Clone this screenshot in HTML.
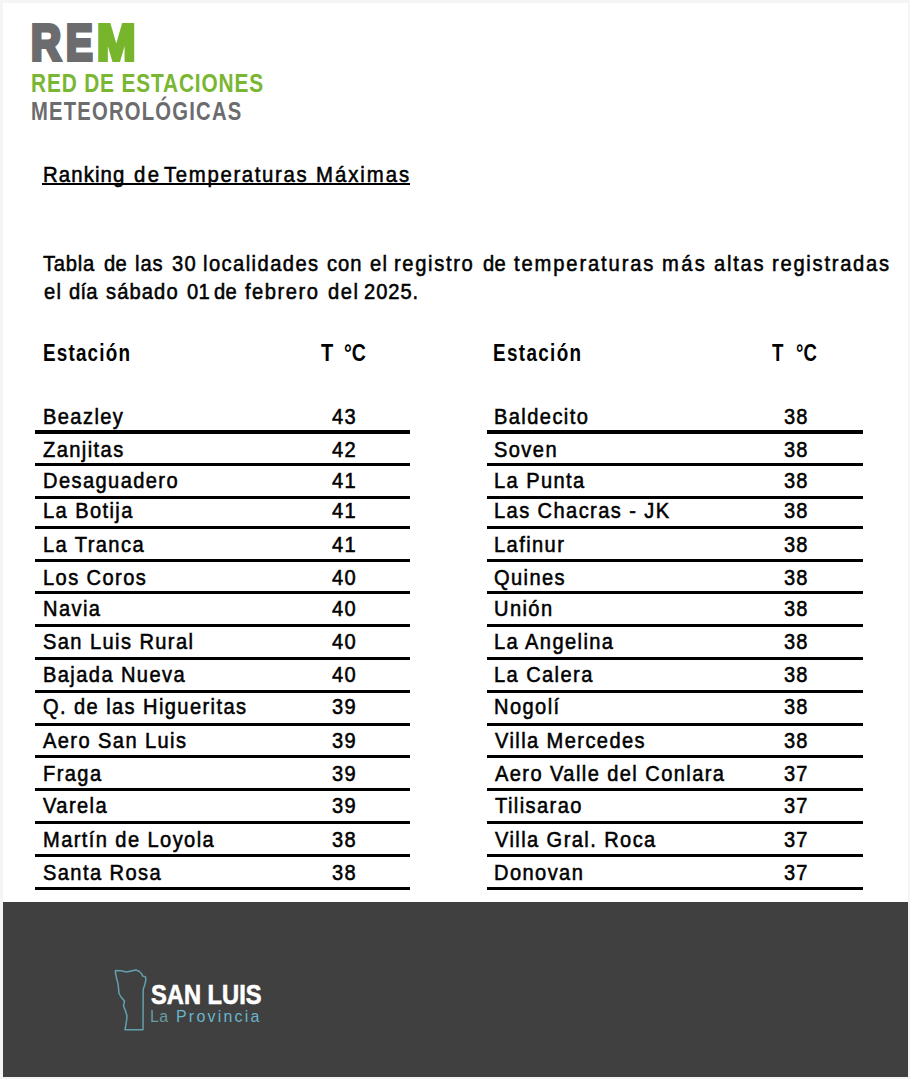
<!DOCTYPE html>
<html><head><meta charset="utf-8"><title>REM - Ranking de Temperaturas Máximas</title><style>
html,body{margin:0;padding:0;}
body{width:910px;height:1079px;position:relative;overflow:hidden;background:#fff;font-family:"Liberation Sans",sans-serif;}
.t{position:absolute;white-space:nowrap;transform-origin:0 0;line-height:normal;}
.r{position:absolute;background:#000;}
.ul{position:absolute;background:#000;}
.foot{position:absolute;left:3px;top:902px;width:905px;height:175px;background:#404040;}
.edge{position:absolute;background:#f5f5f5;}
</style></head><body>
<div class="edge" style="left:0;top:0;width:910px;height:3px"></div>
<div class="edge" style="left:0;top:0;width:3px;height:1079px"></div>
<div class="edge" style="left:908px;top:0;width:2px;height:1079px"></div>
<div class="edge" style="left:0;top:1077px;width:910px;height:2px"></div>
<div class="foot"></div>
<div class="t" style="left:31.27px;top:14.00px;font-size:50.0px;font-weight:bold;color:#6c6c6f;transform:scaleX(0.8324);-webkit-text-stroke:4px #6c6c6f;">R</div>
<div class="t" style="left:66.00px;top:14.00px;font-size:50.0px;font-weight:bold;color:#6c6c6f;transform:scaleX(0.8000);-webkit-text-stroke:4px #6c6c6f;">E</div>
<div class="t" style="left:96.98px;top:14.00px;font-size:50.0px;font-weight:bold;color:#77b52c;transform:scaleX(0.9225);-webkit-text-stroke:4px #77b52c;">M</div>
<div class="t" style="left:31.42px;top:67.50px;font-size:26.7px;font-weight:bold;color:#79b631;transform:scaleX(0.7800);letter-spacing:1.113px;">RED DE ESTACIONES</div>
<div class="t" style="left:31.40px;top:96.50px;font-size:25.3px;font-weight:bold;color:#6c6c6f;transform:scaleX(0.8000);letter-spacing:1.509px;">METEOROLÓGICAS</div>
<div class="t" style="left:43.35px;top:161.72px;font-size:22.6px;transform:scaleX(0.9000);letter-spacing:1.242px;-webkit-text-stroke:0.55px #000;">Ranking</div>
<div class="t" style="left:133.95px;top:161.72px;font-size:22.6px;transform:scaleX(0.9000);letter-spacing:2.800px;-webkit-text-stroke:0.55px #000;">de</div>
<div class="t" style="left:164.15px;top:161.72px;font-size:22.6px;transform:scaleX(0.9000);letter-spacing:1.854px;-webkit-text-stroke:0.55px #000;">Temperaturas</div>
<div class="t" style="left:316.05px;top:161.72px;font-size:22.6px;transform:scaleX(0.9000);letter-spacing:2.171px;-webkit-text-stroke:0.55px #000;">Máximas</div>
<div class="t" style="left:42.85px;top:250.53px;font-size:22.4px;transform:scaleX(0.9000);letter-spacing:0.816px;-webkit-text-stroke:0.55px #000;">Tabla</div>
<div class="t" style="left:103.55px;top:250.53px;font-size:22.4px;transform:scaleX(0.9000);letter-spacing:0.300px;-webkit-text-stroke:0.55px #000;">de</div>
<div class="t" style="left:135.25px;top:250.53px;font-size:22.4px;transform:scaleX(0.9000);letter-spacing:1.067px;-webkit-text-stroke:0.55px #000;">las</div>
<div class="t" style="left:171.85px;top:250.53px;font-size:22.4px;transform:scaleX(0.9000);letter-spacing:1.331px;-webkit-text-stroke:0.55px #000;">30</div>
<div class="t" style="left:202.55px;top:250.53px;font-size:22.4px;transform:scaleX(0.9000);letter-spacing:1.595px;-webkit-text-stroke:0.55px #000;">localidades</div>
<div class="t" style="left:327.25px;top:250.53px;font-size:22.4px;transform:scaleX(0.9000);letter-spacing:1.123px;-webkit-text-stroke:0.55px #000;">con</div>
<div class="t" style="left:369.55px;top:250.53px;font-size:22.4px;transform:scaleX(0.9000);letter-spacing:1.331px;-webkit-text-stroke:0.55px #000;">el</div>
<div class="t" style="left:394.35px;top:250.53px;font-size:22.4px;transform:scaleX(0.9000);letter-spacing:1.844px;-webkit-text-stroke:0.55px #000;">registro</div>
<div class="t" style="left:483.15px;top:250.53px;font-size:22.4px;transform:scaleX(0.9000);letter-spacing:0.300px;-webkit-text-stroke:0.55px #000;">de</div>
<div class="t" style="left:514.15px;top:250.53px;font-size:22.4px;transform:scaleX(0.9000);letter-spacing:2.086px;-webkit-text-stroke:0.55px #000;">temperaturas</div>
<div class="t" style="left:661.55px;top:250.53px;font-size:22.4px;transform:scaleX(0.9000);letter-spacing:2.617px;-webkit-text-stroke:0.55px #000;">más</div>
<div class="t" style="left:714.15px;top:250.53px;font-size:22.4px;transform:scaleX(0.9000);letter-spacing:1.921px;-webkit-text-stroke:0.55px #000;">altas</div>
<div class="t" style="left:771.85px;top:250.53px;font-size:22.4px;transform:scaleX(0.9000);letter-spacing:1.933px;-webkit-text-stroke:0.55px #000;">registradas</div>
<div class="t" style="left:43.55px;top:279.12px;font-size:22.4px;transform:scaleX(0.9000);letter-spacing:1.331px;-webkit-text-stroke:0.55px #000;">el</div>
<div class="t" style="left:68.65px;top:279.12px;font-size:22.4px;transform:scaleX(0.9000);letter-spacing:0.300px;-webkit-text-stroke:0.55px #000;">día</div>
<div class="t" style="left:105.55px;top:279.12px;font-size:22.4px;transform:scaleX(0.9000);letter-spacing:1.222px;-webkit-text-stroke:0.55px #000;">sábado</div>
<div class="t" style="left:186.55px;top:279.12px;font-size:22.4px;transform:scaleX(0.9000);letter-spacing:0.300px;-webkit-text-stroke:0.55px #000;">01</div>
<div class="t" style="left:213.55px;top:279.12px;font-size:22.4px;transform:scaleX(0.9000);letter-spacing:0.300px;-webkit-text-stroke:0.55px #000;">de</div>
<div class="t" style="left:245.25px;top:279.12px;font-size:22.4px;transform:scaleX(0.9000);letter-spacing:1.678px;-webkit-text-stroke:0.55px #000;">febrero</div>
<div class="t" style="left:327.55px;top:279.12px;font-size:22.4px;transform:scaleX(0.9000);letter-spacing:1.772px;-webkit-text-stroke:0.55px #000;">del</div>
<div class="t" style="left:363.55px;top:279.12px;font-size:22.4px;transform:scaleX(0.9000);letter-spacing:1.021px;-webkit-text-stroke:0.55px #000;">2025.</div>
<div class="t" style="left:43.08px;top:340.00px;font-size:23.0px;font-weight:bold;transform:scaleX(0.8200);letter-spacing:1.459px;">Estación</div>
<div class="t" style="left:493.48px;top:340.00px;font-size:23.0px;font-weight:bold;transform:scaleX(0.8200);letter-spacing:1.650px;">Estación</div>
<div class="t" style="left:320.50px;top:340.00px;font-size:23.0px;font-weight:bold;transform:scaleX(0.8714);">T</div>
<div class="t" style="left:343.85px;top:340.00px;font-size:23.0px;font-weight:bold;transform:scaleX(0.8472);">°C</div>
<div class="t" style="left:772.10px;top:340.00px;font-size:23.0px;font-weight:bold;transform:scaleX(0.8143);">T</div>
<div class="t" style="left:796.19px;top:340.00px;font-size:23.0px;font-weight:bold;transform:scaleX(0.8059);">°C</div>
<div class="t" style="left:42.55px;top:403.73px;font-size:22.3px;transform:scaleX(0.9000);letter-spacing:1.571px;-webkit-text-stroke:0.55px #000;">Beazley</div>
<div class="t" style="left:331.65px;top:403.73px;font-size:22.3px;transform:scaleX(0.9000);letter-spacing:1.383px;-webkit-text-stroke:0.55px #000;">43</div>
<div class="t" style="left:43.45px;top:436.53px;font-size:22.3px;transform:scaleX(0.9000);letter-spacing:1.571px;-webkit-text-stroke:0.55px #000;">Zanjitas</div>
<div class="t" style="left:331.65px;top:436.53px;font-size:22.3px;transform:scaleX(0.9000);letter-spacing:1.383px;-webkit-text-stroke:0.55px #000;">42</div>
<div class="t" style="left:42.55px;top:468.43px;font-size:22.3px;transform:scaleX(0.9000);letter-spacing:1.571px;-webkit-text-stroke:0.55px #000;">Desaguadero</div>
<div class="t" style="left:331.65px;top:468.43px;font-size:22.3px;transform:scaleX(0.9000);letter-spacing:1.383px;-webkit-text-stroke:0.55px #000;">41</div>
<div class="t" style="left:42.55px;top:498.43px;font-size:22.3px;transform:scaleX(0.9000);letter-spacing:1.571px;-webkit-text-stroke:0.55px #000;">La Botija</div>
<div class="t" style="left:331.65px;top:498.43px;font-size:22.3px;transform:scaleX(0.9000);letter-spacing:1.383px;-webkit-text-stroke:0.55px #000;">41</div>
<div class="t" style="left:42.55px;top:531.52px;font-size:22.3px;transform:scaleX(0.9000);letter-spacing:1.571px;-webkit-text-stroke:0.55px #000;">La Tranca</div>
<div class="t" style="left:331.65px;top:531.52px;font-size:22.3px;transform:scaleX(0.9000);letter-spacing:1.383px;-webkit-text-stroke:0.55px #000;">41</div>
<div class="t" style="left:42.55px;top:564.73px;font-size:22.3px;transform:scaleX(0.9000);letter-spacing:1.571px;-webkit-text-stroke:0.55px #000;">Los Coros</div>
<div class="t" style="left:331.65px;top:564.73px;font-size:22.3px;transform:scaleX(0.9000);letter-spacing:1.383px;-webkit-text-stroke:0.55px #000;">40</div>
<div class="t" style="left:42.55px;top:596.43px;font-size:22.3px;transform:scaleX(0.9000);letter-spacing:1.571px;-webkit-text-stroke:0.55px #000;">Navia</div>
<div class="t" style="left:331.65px;top:596.43px;font-size:22.3px;transform:scaleX(0.9000);letter-spacing:1.383px;-webkit-text-stroke:0.55px #000;">40</div>
<div class="t" style="left:42.55px;top:629.02px;font-size:22.3px;transform:scaleX(0.9000);letter-spacing:1.571px;-webkit-text-stroke:0.55px #000;">San Luis Rural</div>
<div class="t" style="left:331.65px;top:629.02px;font-size:22.3px;transform:scaleX(0.9000);letter-spacing:1.383px;-webkit-text-stroke:0.55px #000;">40</div>
<div class="t" style="left:42.55px;top:662.33px;font-size:22.3px;transform:scaleX(0.9000);letter-spacing:1.571px;-webkit-text-stroke:0.55px #000;">Bajada Nueva</div>
<div class="t" style="left:331.65px;top:662.33px;font-size:22.3px;transform:scaleX(0.9000);letter-spacing:1.383px;-webkit-text-stroke:0.55px #000;">40</div>
<div class="t" style="left:42.55px;top:694.23px;font-size:22.3px;transform:scaleX(0.9000);letter-spacing:1.571px;-webkit-text-stroke:0.55px #000;">Q. de las Higueritas</div>
<div class="t" style="left:331.65px;top:694.23px;font-size:22.3px;transform:scaleX(0.9000);letter-spacing:1.383px;-webkit-text-stroke:0.55px #000;">39</div>
<div class="t" style="left:43.45px;top:728.23px;font-size:22.3px;transform:scaleX(0.9000);letter-spacing:1.571px;-webkit-text-stroke:0.55px #000;">Aero San Luis</div>
<div class="t" style="left:331.65px;top:728.23px;font-size:22.3px;transform:scaleX(0.9000);letter-spacing:1.383px;-webkit-text-stroke:0.55px #000;">39</div>
<div class="t" style="left:42.55px;top:760.52px;font-size:22.3px;transform:scaleX(0.9000);letter-spacing:1.571px;-webkit-text-stroke:0.55px #000;">Fraga</div>
<div class="t" style="left:331.65px;top:760.52px;font-size:22.3px;transform:scaleX(0.9000);letter-spacing:1.383px;-webkit-text-stroke:0.55px #000;">39</div>
<div class="t" style="left:43.45px;top:793.12px;font-size:22.3px;transform:scaleX(0.9000);letter-spacing:1.571px;-webkit-text-stroke:0.55px #000;">Varela</div>
<div class="t" style="left:331.65px;top:793.12px;font-size:22.3px;transform:scaleX(0.9000);letter-spacing:1.383px;-webkit-text-stroke:0.55px #000;">39</div>
<div class="t" style="left:42.55px;top:826.62px;font-size:22.3px;transform:scaleX(0.9000);letter-spacing:1.571px;-webkit-text-stroke:0.55px #000;">Martín de Loyola</div>
<div class="t" style="left:331.65px;top:826.62px;font-size:22.3px;transform:scaleX(0.9000);letter-spacing:1.383px;-webkit-text-stroke:0.55px #000;">38</div>
<div class="t" style="left:42.55px;top:859.52px;font-size:22.3px;transform:scaleX(0.9000);letter-spacing:1.571px;-webkit-text-stroke:0.55px #000;">Santa Rosa</div>
<div class="t" style="left:331.65px;top:859.52px;font-size:22.3px;transform:scaleX(0.9000);letter-spacing:1.383px;-webkit-text-stroke:0.55px #000;">38</div>
<div class="t" style="left:493.95px;top:403.73px;font-size:22.3px;transform:scaleX(0.9000);letter-spacing:1.571px;-webkit-text-stroke:0.55px #000;">Baldecito</div>
<div class="t" style="left:784.25px;top:403.73px;font-size:22.3px;transform:scaleX(0.9000);letter-spacing:1.161px;-webkit-text-stroke:0.55px #000;">38</div>
<div class="t" style="left:493.95px;top:436.53px;font-size:22.3px;transform:scaleX(0.9000);letter-spacing:1.571px;-webkit-text-stroke:0.55px #000;">Soven</div>
<div class="t" style="left:784.25px;top:436.53px;font-size:22.3px;transform:scaleX(0.9000);letter-spacing:1.161px;-webkit-text-stroke:0.55px #000;">38</div>
<div class="t" style="left:493.95px;top:468.43px;font-size:22.3px;transform:scaleX(0.9000);letter-spacing:1.571px;-webkit-text-stroke:0.55px #000;">La Punta</div>
<div class="t" style="left:784.25px;top:468.43px;font-size:22.3px;transform:scaleX(0.9000);letter-spacing:1.161px;-webkit-text-stroke:0.55px #000;">38</div>
<div class="t" style="left:493.95px;top:498.43px;font-size:22.3px;transform:scaleX(0.9000);letter-spacing:1.571px;-webkit-text-stroke:0.55px #000;">Las Chacras - JK</div>
<div class="t" style="left:784.25px;top:498.43px;font-size:22.3px;transform:scaleX(0.9000);letter-spacing:1.161px;-webkit-text-stroke:0.55px #000;">38</div>
<div class="t" style="left:493.95px;top:531.52px;font-size:22.3px;transform:scaleX(0.9000);letter-spacing:1.571px;-webkit-text-stroke:0.55px #000;">Lafinur</div>
<div class="t" style="left:784.25px;top:531.52px;font-size:22.3px;transform:scaleX(0.9000);letter-spacing:1.161px;-webkit-text-stroke:0.55px #000;">38</div>
<div class="t" style="left:493.95px;top:564.73px;font-size:22.3px;transform:scaleX(0.9000);letter-spacing:1.571px;-webkit-text-stroke:0.55px #000;">Quines</div>
<div class="t" style="left:784.25px;top:564.73px;font-size:22.3px;transform:scaleX(0.9000);letter-spacing:1.161px;-webkit-text-stroke:0.55px #000;">38</div>
<div class="t" style="left:493.95px;top:596.43px;font-size:22.3px;transform:scaleX(0.9000);letter-spacing:1.571px;-webkit-text-stroke:0.55px #000;">Unión</div>
<div class="t" style="left:784.25px;top:596.43px;font-size:22.3px;transform:scaleX(0.9000);letter-spacing:1.161px;-webkit-text-stroke:0.55px #000;">38</div>
<div class="t" style="left:493.95px;top:629.02px;font-size:22.3px;transform:scaleX(0.9000);letter-spacing:1.571px;-webkit-text-stroke:0.55px #000;">La Angelina</div>
<div class="t" style="left:784.25px;top:629.02px;font-size:22.3px;transform:scaleX(0.9000);letter-spacing:1.161px;-webkit-text-stroke:0.55px #000;">38</div>
<div class="t" style="left:493.95px;top:662.33px;font-size:22.3px;transform:scaleX(0.9000);letter-spacing:1.571px;-webkit-text-stroke:0.55px #000;">La Calera</div>
<div class="t" style="left:784.25px;top:662.33px;font-size:22.3px;transform:scaleX(0.9000);letter-spacing:1.161px;-webkit-text-stroke:0.55px #000;">38</div>
<div class="t" style="left:493.95px;top:694.23px;font-size:22.3px;transform:scaleX(0.9000);letter-spacing:1.571px;-webkit-text-stroke:0.55px #000;">Nogolí</div>
<div class="t" style="left:784.25px;top:694.23px;font-size:22.3px;transform:scaleX(0.9000);letter-spacing:1.161px;-webkit-text-stroke:0.55px #000;">38</div>
<div class="t" style="left:494.85px;top:728.23px;font-size:22.3px;transform:scaleX(0.9000);letter-spacing:1.571px;-webkit-text-stroke:0.55px #000;">Villa Mercedes</div>
<div class="t" style="left:784.25px;top:728.23px;font-size:22.3px;transform:scaleX(0.9000);letter-spacing:1.161px;-webkit-text-stroke:0.55px #000;">38</div>
<div class="t" style="left:494.85px;top:760.52px;font-size:22.3px;transform:scaleX(0.9000);letter-spacing:1.571px;-webkit-text-stroke:0.55px #000;">Aero Valle del Conlara</div>
<div class="t" style="left:784.25px;top:760.52px;font-size:22.3px;transform:scaleX(0.9000);letter-spacing:1.161px;-webkit-text-stroke:0.55px #000;">37</div>
<div class="t" style="left:494.85px;top:793.12px;font-size:22.3px;transform:scaleX(0.9000);letter-spacing:1.571px;-webkit-text-stroke:0.55px #000;">Tilisarao</div>
<div class="t" style="left:784.25px;top:793.12px;font-size:22.3px;transform:scaleX(0.9000);letter-spacing:1.161px;-webkit-text-stroke:0.55px #000;">37</div>
<div class="t" style="left:494.85px;top:826.62px;font-size:22.3px;transform:scaleX(0.9000);letter-spacing:1.571px;-webkit-text-stroke:0.55px #000;">Villa Gral. Roca</div>
<div class="t" style="left:784.25px;top:826.62px;font-size:22.3px;transform:scaleX(0.9000);letter-spacing:1.161px;-webkit-text-stroke:0.55px #000;">37</div>
<div class="t" style="left:493.95px;top:859.52px;font-size:22.3px;transform:scaleX(0.9000);letter-spacing:1.571px;-webkit-text-stroke:0.55px #000;">Donovan</div>
<div class="t" style="left:784.25px;top:859.52px;font-size:22.3px;transform:scaleX(0.9000);letter-spacing:1.161px;-webkit-text-stroke:0.55px #000;">37</div>
<div class="t" style="left:151.47px;top:980.20px;font-size:26.8px;font-weight:bold;color:#ffffff;transform:scaleX(0.8839);-webkit-text-stroke:0.6px #ffffff;">SAN LUIS</div>
<div class="t" style="left:150.05px;top:1006.60px;font-size:16.8px;color:#6a9ca7;transform:scaleX(0.9500);letter-spacing:0.300px;">La</div>
<div class="t" style="left:176.35px;top:1006.60px;font-size:16.8px;color:#69b6ca;transform:scaleX(0.9500);letter-spacing:2.349px;">Provincia</div>
<div class="ul" style="left:42px;top:183px;width:368px;height:2px"></div>
<div class="r" style="left:35px;top:430px;width:375px;height:4px"></div>
<div class="r" style="left:487px;top:430px;width:376px;height:4px"></div>
<div class="r" style="left:35px;top:463px;width:375px;height:3px"></div>
<div class="r" style="left:487px;top:463px;width:376px;height:3px"></div>
<div class="r" style="left:35px;top:496px;width:375px;height:3px"></div>
<div class="r" style="left:487px;top:496px;width:376px;height:3px"></div>
<div class="r" style="left:35px;top:526px;width:375px;height:3px"></div>
<div class="r" style="left:487px;top:526px;width:376px;height:3px"></div>
<div class="r" style="left:35px;top:559px;width:375px;height:3px"></div>
<div class="r" style="left:487px;top:559px;width:376px;height:3px"></div>
<div class="r" style="left:35px;top:591px;width:375px;height:3px"></div>
<div class="r" style="left:487px;top:591px;width:376px;height:3px"></div>
<div class="r" style="left:35px;top:624px;width:375px;height:3px"></div>
<div class="r" style="left:487px;top:624px;width:376px;height:3px"></div>
<div class="r" style="left:35px;top:657px;width:375px;height:3px"></div>
<div class="r" style="left:487px;top:657px;width:376px;height:3px"></div>
<div class="r" style="left:35px;top:690px;width:375px;height:3px"></div>
<div class="r" style="left:487px;top:690px;width:376px;height:3px"></div>
<div class="r" style="left:35px;top:723px;width:375px;height:3px"></div>
<div class="r" style="left:487px;top:723px;width:376px;height:3px"></div>
<div class="r" style="left:35px;top:755px;width:375px;height:3px"></div>
<div class="r" style="left:487px;top:755px;width:376px;height:3px"></div>
<div class="r" style="left:35px;top:788px;width:375px;height:3px"></div>
<div class="r" style="left:487px;top:788px;width:376px;height:3px"></div>
<div class="r" style="left:35px;top:821px;width:375px;height:3px"></div>
<div class="r" style="left:487px;top:821px;width:376px;height:3px"></div>
<div class="r" style="left:35px;top:854px;width:375px;height:3px"></div>
<div class="r" style="left:487px;top:854px;width:376px;height:3px"></div>
<div class="r" style="left:35px;top:887px;width:375px;height:3px"></div>
<div class="r" style="left:487px;top:887px;width:376px;height:3px"></div>
<svg style="position:absolute;left:0;top:0" width="910" height="1079" viewBox="0 0 910 1079">
<path d="M115.5 970.5 L121 970.8 L126.5 972 L131 971 L136 970 L139 971.3 L141.5 973.5 L142.6 976 L145.6 976.9 L145.8 980 L145 984 L143.2 989.5 L143 1029.7 L125 1029.7 L125.5 1027 L126.5 1021 L127 1016 L125.5 1011 L123.5 1006 L124.5 1001 L121 997 L119 993.5 L118.5 988 L118 983.5 L116.5 978 L115.5 973 Z" fill="none" stroke="#62a0ae" stroke-width="1.5" stroke-linejoin="round"/>
</svg>
</body></html>
